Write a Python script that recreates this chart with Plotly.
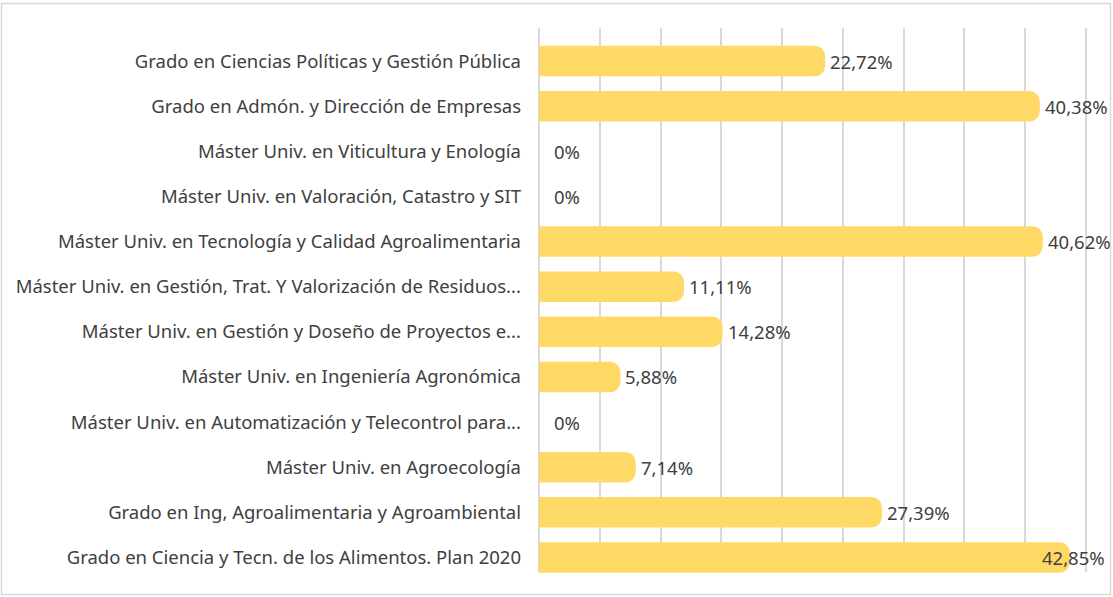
import plotly.graph_objects as go

categories = [
    "Grado en Ciencias Políticas y Gestión Pública",
    "Grado en Admón. y Dirección de Empresas",
    "Máster Univ. en Viticultura y Enología",
    "Máster Univ. en Valoración, Catastro y SIT",
    "Máster Univ. en Tecnología y Calidad Agroalimentaria",
    "Máster Univ. en Gestión, Trat. Y Valorización de Residuos...",
    "Máster Univ. en Gestión y Doseño de Proyectos e...",
    "Máster Univ. en Ingeniería Agronómica",
    "Máster Univ. en Automatización y Telecontrol para...",
    "Máster Univ. en Agroecología",
    "Grado en Ing, Agroalimentaria y Agroambiental",
    "Grado en Ciencia y Tecn. de los Alimentos. Plan 2020",
]
values = [22.72, 40.38, 0, 0, 40.62, 11.11, 14.28, 5.88, 0, 7.14, 27.39, 42.85]
value_labels = ["22,72%", "40,38%", "0%", "0%", "40,62%", "11,11%",
                "14,28%", "5,88%", "0%", "7,14%", "27,39%", "42,85%"]
x_ticks = [0, 5, 10, 15, 20, 25, 30, 35, 40, 45]

# ---- styling / layout (pixels of the 1113x597 page) ----
W, H = 1113, 597
X0_PX, X45_PX, XEND_PX = 539, 1086, 1110      # axis origin, 45% gridline, plot right edge
GRID_TOP, GRID_BOT = 28, 572                  # vertical extent of gridlines
ROWS_TOP, ROWS_BOT = 38.5, 580                # band occupied by category rows
X_MAX = 45 * (XEND_PX - X0_PX) / (X45_PX - X0_PX)
BAR_COLOR = "#FFD966"
GRID_COLOR = "#D9D9D9"
TEXT_COLOR = "#404040"
FONT = "Noto Sans"
FS = 18.5
STROKE = 20

xdom = [X0_PX / W, XEND_PX / W]
grid_ydom = [1 - GRID_BOT / H, 1 - GRID_TOP / H]
rows_ydom = [1 - ROWS_BOT / H, 1 - ROWS_TOP / H]

fig = go.Figure()

# empty trace to own the gridline subplot (drawn first, under the bars)
fig.add_trace(go.Scatter(x=[], y=[], xaxis="x", yaxis="y",
                         hoverinfo="skip", showlegend=False))

fig.add_trace(go.Bar(
    x=values, y=categories, orientation="h",
    xaxis="x2", yaxis="y2",
    marker=dict(color=BAR_COLOR, cornerradius=0.5,
                line=dict(color=BAR_COLOR,
                          width=[STROKE if v > 0 else 0 for v in values])),
    width=0.235,
    hoverinfo="skip", showlegend=False,
))

# data labels placed at each bar's value
for v, c, t in zip(values, categories, value_labels):
    shift = 13 if v < 42 else -20
    fig.add_annotation(x=v, y=c, xref="x2", yref="y2", text=t,
                       showarrow=False, xanchor="left", yanchor="middle",
                       xshift=shift,
                       font=dict(family=FONT, size=FS, color=TEXT_COLOR))

# outer light frame of the chart
fig.add_shape(type="rect", xref="paper", yref="paper",
              x0=1.5 / W, x1=1110.5 / W, y0=1 - 594.5 / H, y1=1 - 3.5 / H,
              line=dict(color=GRID_COLOR, width=1.5), layer="below")

fig.update_layout(
    width=W, height=H,
    margin=dict(l=0, r=0, t=0, b=0),
    paper_bgcolor="white", plot_bgcolor="rgba(0,0,0,0)",
    showlegend=False,
    font=dict(family=FONT, size=FS, color=TEXT_COLOR),
    xaxis=dict(domain=xdom, range=[0, X_MAX], tickvals=x_ticks,
               showticklabels=False, ticks="", showgrid=True,
               gridcolor=GRID_COLOR, gridwidth=2, zeroline=True,
               zerolinecolor=GRID_COLOR, zerolinewidth=2,
               showline=False, fixedrange=True, anchor="y"),
    yaxis=dict(domain=grid_ydom, range=[0, 1], showgrid=False,
               showticklabels=False, zeroline=False, ticks="",
               fixedrange=True, anchor="x"),
    xaxis2=dict(domain=xdom, range=[0, X_MAX], showgrid=False,
                showticklabels=False, zeroline=False, ticks="",
                fixedrange=True, anchor="y2"),
    yaxis2=dict(domain=rows_ydom, autorange="reversed", showgrid=False,
                ticks="", ticklabelstandoff=17, zeroline=False,
                tickfont=dict(family=FONT, size=FS, color=TEXT_COLOR),
                fixedrange=True, anchor="x2"),
)

fig.write_html("out.html",
               config={"displayModeBar": False},
               post_script="document.body.style.margin='0';"
                           "document.body.style.overflow='hidden';")
